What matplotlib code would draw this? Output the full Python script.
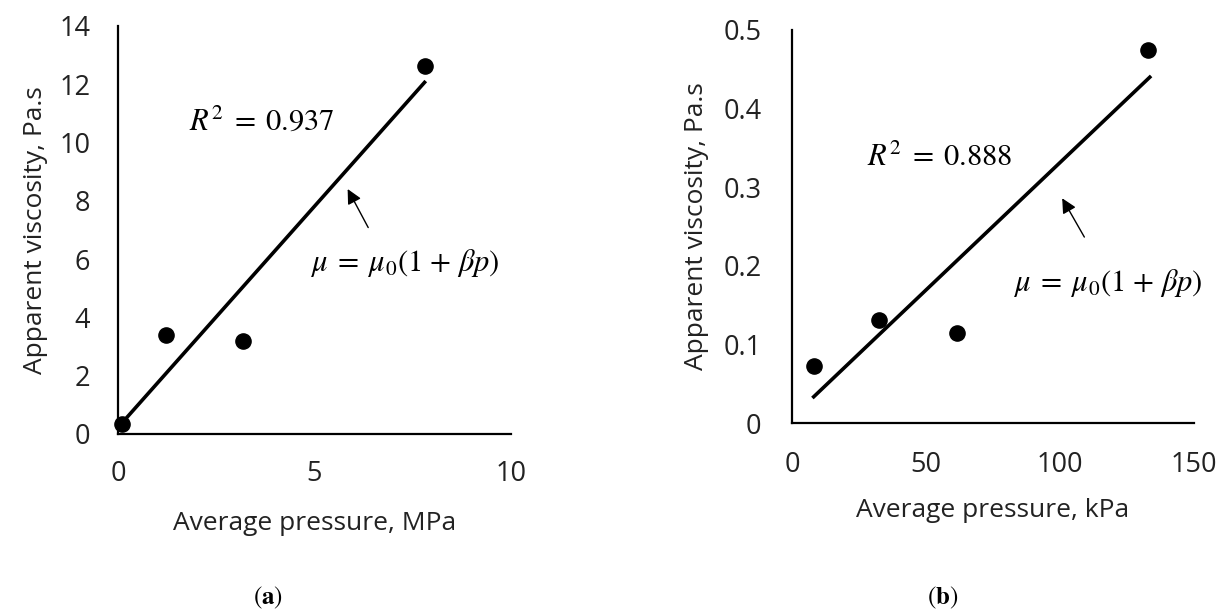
import numpy as np
import matplotlib
matplotlib.use("Agg")
import matplotlib.pyplot as plt

plt.rcParams['font.family'] = ['Open Sans', 'DejaVu Sans']
plt.rcParams['mathtext.fontset'] = 'stix'

# Panel (a)
pa_x = [0.09, 1.22, 3.17, 7.82]
pa_y = [0.34, 3.41, 3.18, 12.64]
# Panel (b)
pb_x = [8.3, 32.4, 61.7, 132.8]
pb_y = [0.072, 0.131, 0.114, 0.474]

a_xticks = [0, 5, 10]
a_yticks = [0, 2, 4, 6, 8, 10, 12, 14]
b_xticks = [0, 50, 100, 150]
b_yticks = [0, 0.1, 0.2, 0.3, 0.4, 0.5]
b_yticklabels = ['0', '0.1', '0.2', '0.3', '0.4', '0.5']

fig = plt.figure(figsize=(12.24, 6.12), dpi=100)
axA = fig.add_axes([118/1224, 1-434/612, 393/1224, 408/612])
axB = fig.add_axes([792/1224, 1-423/612, 402/1224, 393/612])

FS = 19
TS = 19.5
EQ = 22

EQ_TEXT = r'$\mu\;=\;\mu_0(1\ {+}\ \beta p)$'

def style(ax):
    for s in ['top', 'right']:
        ax.spines[s].set_visible(False)
    for s in ['left', 'bottom']:
        ax.spines[s].set_linewidth(1.6)
        ax.spines[s].set_color('black')
    ax.tick_params(length=0, labelsize=TS, colors='#222222')

# Panel a
axA.scatter(pa_x, pa_y, s=120, color='black', zorder=3, clip_on=False)
c = np.polyfit(pa_x, pa_y, 1)
fx = np.array([0.06, 7.80])
axA.plot(fx, np.polyval(c, fx), color='black', lw=2.6)
axA.set_xlim(0, 10)
axA.set_ylim(0, 14)
axA.set_xticks(a_xticks)
axA.set_yticks(a_yticks)
style(axA)
axA.tick_params(axis='x', pad=19)
axA.tick_params(axis='y', pad=20)
axA.set_xlabel('Average pressure, MPa', fontsize=FS, labelpad=16, color='#222222')
axA.set_ylabel('Apparent viscosity, Pa.s', fontsize=FS, labelpad=8, color='#222222')
axA.text(3.66, 10.7, r'$R^2\;=\;0.937$', fontsize=EQ, ha='center', va='center')
axA.text(7.29, 5.86, EQ_TEXT, fontsize=EQ, ha='center', va='center')
axA.annotate('', xy=(5.81, 8.49), xytext=(6.40, 7.0),
             arrowprops=dict(arrowstyle='-|>', color='black', lw=1.0, mutation_scale=22))

# Panel b
axB.scatter(pb_x, pb_y, s=120, color='black', zorder=3, clip_on=False)
c = np.polyfit(pb_x, pb_y, 1)
fx = np.array([8.1, 133.5])
axB.plot(fx, np.polyval(c, fx), color='black', lw=2.6)
axB.set_xlim(0, 150)
axB.set_ylim(0, 0.5)
axB.set_xticks(b_xticks)
axB.set_yticks(b_yticks)
axB.set_yticklabels(b_yticklabels)
style(axB)
axB.tick_params(axis='x', pad=20)
axB.tick_params(axis='y', pad=22)
axB.set_xlabel('Average pressure, kPa', fontsize=FS, labelpad=14, color='#222222')
axB.set_ylabel('Apparent viscosity, Pa.s', fontsize=FS, labelpad=10, color='#222222')
axB.text(55.3, 0.337, r'$R^2\;=\;0.888$', fontsize=EQ, ha='center', va='center')
axB.text(118, 0.1785, EQ_TEXT, fontsize=EQ, ha='center', va='center', clip_on=False)
axB.annotate('', xy=(100.3, 0.289), xytext=(109.6, 0.2335),
             arrowprops=dict(arrowstyle='-|>', color='black', lw=1.0, mutation_scale=22))

fig.text(268/1224, 1-598/612, r'$(\mathbf{a})$', fontsize=18, ha='center', va='center')
fig.text(943/1224, 1-598/612, r'$(\mathbf{b})$', fontsize=18, ha='center', va='center')

fig.savefig('out.png', dpi=100, facecolor='white')
